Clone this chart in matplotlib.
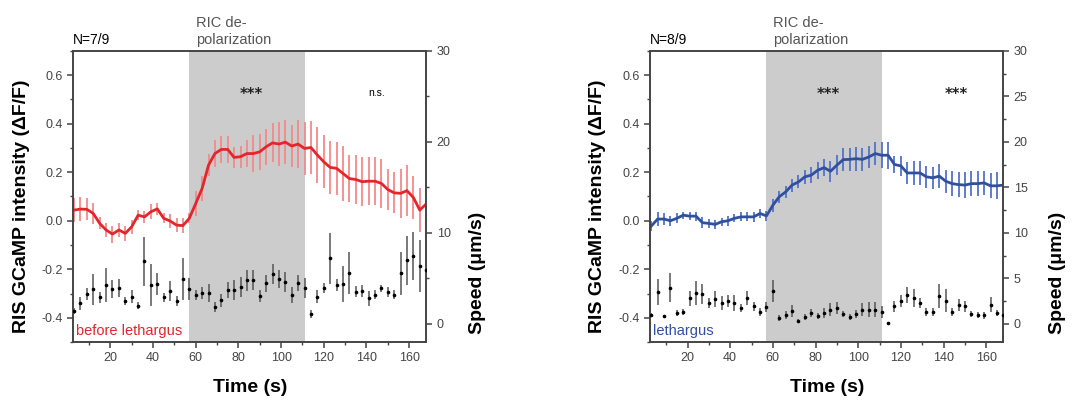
import numpy as np
import matplotlib
matplotlib.use("Agg")
import matplotlib.pyplot as plt
from matplotlib.ticker import MultipleLocator

plt.rcParams["font.family"] = ["Liberation Sans", "DejaVu Sans"]

# sampling grid (s)
time = np.arange(3, 169, 3)

# before lethargus: GCaMP dF/F mean and SEM
red_mean = [0.044, 0.048, 0.047, 0.030, -0.011, -0.038, -0.055, -0.038, -0.052, -0.025,
            0.023, 0.016, 0.037, 0.049, 0.010, -0.001, -0.018, -0.020, 0.010, 0.071,
            0.133, 0.229, 0.277, 0.294, 0.294, 0.261, 0.264, 0.277, 0.277, 0.284,
            0.305, 0.321, 0.316, 0.324, 0.308, 0.316, 0.298, 0.302, 0.271, 0.243,
            0.220, 0.216, 0.195, 0.174, 0.170, 0.161, 0.163, 0.163, 0.154, 0.129,
            0.115, 0.113, 0.124, 0.096, 0.044, 0.069]
red_err = [0.05, 0.05, 0.045, 0.045, 0.025, 0.03, 0.035, 0.03, 0.03, 0.03,
           0.02, 0.025, 0.03, 0.025, 0.02, 0.03, 0.03, 0.03, 0.02, 0.05,
           0.05, 0.045, 0.055, 0.055, 0.055, 0.045, 0.045, 0.055, 0.075, 0.075,
           0.075, 0.08, 0.09, 0.09, 0.085, 0.1, 0.11, 0.11, 0.115, 0.11,
           0.11, 0.11, 0.115, 0.095, 0.1, 0.1, 0.1, 0.1, 0.1, 0.085,
           0.085, 0.1, 0.105, 0.09, 0.09, 0.0]
# before lethargus: speed (um/s) mean and SEM
red_speed = [1.4, 2.26, 3.28, 3.8, 2.9, 4.27, 3.8, 3.9, 2.55, 3.0,
             2.0, 6.9, 4.27, 4.34, 2.9, 3.65, 2.55, 4.9, 3.8, 3.2,
             3.4, 3.4, 1.9, 2.6, 3.7, 3.7, 4.1, 4.8, 4.8, 3.07,
             4.45, 5.5, 4.9, 4.6, 3.2, 4.5, 3.9, 1.1, 3.0, 3.9,
             7.2, 4.27, 4.4, 5.55, 3.55, 3.65, 2.8, 3.2, 3.9, 3.55,
             3.2, 5.55, 7.0, 7.45, 6.35, 5.9]
red_speed_err = [0.3, 0.7, 0.65, 1.7, 0.65, 1.9, 1.0, 1.0, 0.45, 0.7,
                 0.4, 2.7, 2.3, 1.2, 0.45, 1.1, 0.55, 2.3, 1.2, 0.55,
                 0.65, 1.0, 0.55, 0.7, 0.9, 1.1, 1.1, 1.15, 1.1, 0.7,
                 0.9, 1.1, 1.0, 1.1, 0.9, 0.9, 1.1, 0.45, 0.7, 0.55,
                 2.8, 0.7, 2.0, 2.3, 0.6, 0.65, 0.8, 0.5, 0.4, 0.55,
                 0.5, 2.4, 2.7, 2.6, 2.9, 0.5]

# lethargus
blue_mean = [-0.022, 0.007, 0.007, 0.0, 0.010, 0.023, 0.019, 0.019, -0.008, -0.011,
             -0.015, -0.004, 0.0, 0.010, 0.016, 0.016, 0.016, 0.030, 0.020, 0.064,
             0.099, 0.119, 0.147, 0.160, 0.181, 0.188, 0.208, 0.219, 0.204, 0.229,
             0.252, 0.253, 0.256, 0.253, 0.263, 0.277, 0.270, 0.270, 0.232, 0.226,
             0.197, 0.197, 0.197, 0.181, 0.177, 0.184, 0.163, 0.153, 0.149, 0.147,
             0.153, 0.153, 0.156, 0.144, 0.144, 0.147]
blue_err = [0.02, 0.028, 0.025, 0.02, 0.02, 0.015, 0.017, 0.018, 0.022, 0.02,
            0.017, 0.017, 0.02, 0.017, 0.019, 0.019, 0.02, 0.019, 0.02, 0.027,
            0.025, 0.026, 0.027, 0.027, 0.03, 0.032, 0.034, 0.036, 0.043, 0.04,
            0.046, 0.048, 0.05, 0.048, 0.047, 0.048, 0.053, 0.055, 0.034, 0.041,
            0.045, 0.048, 0.048, 0.045, 0.045, 0.048, 0.048, 0.051, 0.052, 0.053,
            0.053, 0.053, 0.051, 0.051, 0.055, 0.0]
blue_speed = [1.0, 3.5, 0.85, 3.95, 1.2, 1.3, 2.8, 3.4, 3.3, 2.3,
              2.7, 2.3, 2.5, 2.3, 1.75, 2.85, 1.95, 1.3, 1.85, 3.65,
              0.65, 0.95, 1.4, 0.35, 0.75, 1.2, 0.85, 1.2, 1.55, 1.75,
              1.1, 0.75, 1.1, 1.55, 1.55, 1.55, 1.3, 0.1, 1.95, 2.5,
              3.2, 2.8, 2.3, 1.3, 1.3, 3.05, 2.55, 1.3, 2.1, 1.95,
              1.1, 0.95, 0.95, 2.1, 1.2, 0.95]
blue_speed_err = [0.2, 1.4, 0.15, 1.6, 0.35, 0.35, 0.8, 1.3, 1.1, 0.55,
                  0.9, 0.8, 0.7, 0.9, 0.4, 0.8, 0.5, 0.4, 0.5, 1.2,
                  0.3, 0.45, 0.7, 0.15, 0.35, 0.45, 0.35, 0.55, 0.7, 0.7,
                  0.35, 0.35, 0.45, 0.7, 0.8, 0.8, 0.65, 0.1, 0.6, 0.65,
                  0.9, 1.0, 0.55, 0.45, 0.45, 1.3, 1.3, 0.45, 0.65, 0.6,
                  0.35, 0.35, 0.4, 0.8, 0.35, 0.3]

stim_window = (57, 111)
AX_COL = "#444444"


def draw_panel(fig, left, mean, err, speed, speed_err, line_col, bar_col,
               n_text, cond_text, stars, right_major):
    ax = fig.add_axes([left, 0.147, 0.327, 0.726])
    ax.axvspan(*stim_window, color="#cccccc", lw=0, zorder=0)
    ax.set_xlim(2.5, 168)
    ax.set_ylim(-0.5, 0.7)
    ax.errorbar(time, mean, yerr=err, fmt="none", ecolor=bar_col, elinewidth=1.3, zorder=2)
    ax.plot(time, mean, color=line_col, lw=2, zorder=3)

    ax2 = ax.twinx()
    ax2.set_ylim(-2, 30)
    ax2.errorbar(time, speed, yerr=speed_err, fmt="o", ms=1.6, color="black",
                 ecolor="#555555", elinewidth=1.1, zorder=3)

    ax.xaxis.set_major_locator(MultipleLocator(20))
    ax.xaxis.set_minor_locator(MultipleLocator(10))
    ax.yaxis.set_major_locator(MultipleLocator(0.2))
    ax.yaxis.set_minor_locator(MultipleLocator(0.1))
    ax.yaxis.set_major_formatter(plt.FuncFormatter(lambda v, p: f"{v:.1f}"))
    ax2.yaxis.set_major_locator(MultipleLocator(right_major))
    ax2.yaxis.set_minor_locator(MultipleLocator(right_major / 2))
    ax2.set_yticks([t for t in np.arange(0, 31, right_major)])

    for a in (ax, ax2):
        for s in a.spines.values():
            s.set_color(AX_COL)
            s.set_linewidth(1.2)
        a.tick_params(which="major", direction="out", length=4, width=1.1,
                      color=AX_COL, labelcolor="#444444", labelsize=9)
        a.tick_params(which="minor", direction="out", length=2.2, width=1.0, color=AX_COL)

    star_kw = dict(ha="center", va="center", fontsize=10.5, fontweight="bold",
                   family="DejaVu Sans", color="#222222")
    ax.text(86, 0.52, stars[0], **star_kw)
    if stars[1] == "n.s.":
        ax.text(145, 0.525, stars[1], ha="center", va="center", fontsize=7.5)
    else:
        ax.text(146, 0.52, stars[1], **star_kw)
    ax.text(2.5, 0.715, n_text, ha="left", va="bottom", fontsize=10)
    ax.text(stim_window[0] + 3, 0.715, "RIC de-\npolarization", ha="left", va="bottom",
            fontsize=10.5, color="#555555", linespacing=1.3)
    ax.text(4, -0.485, cond_text, ha="left", va="bottom", fontsize=10.5, color=line_col)
    return ax


fig = plt.figure(figsize=(10.8, 4.01), dpi=100)

draw_panel(fig, 0.0676, red_mean, red_err, red_speed, red_speed_err,
           "#e3262b", "#f28a8a", "N=7/9", "before lethargus", ("***", "n.s."), 10)
draw_panel(fig, 0.602, blue_mean, blue_err, blue_speed, blue_speed_err,
           "#30509e", "#5272cc", "N=8/9", "lethargus", ("***", "***"), 5)

lab = dict(fontsize=14, fontweight="bold", ha="center", va="center")
for x_ax, x_sp, x_t in [(22, 477, 250), (597, 1057, 827)]:
    fig.text(x_ax / 1080, 1 - 206 / 401, "RIS GCaMP intensity (\u0394F/F)", rotation=90, **lab)
    fig.text(x_sp / 1080, 1 - 273 / 401, "Speed (\u03bcm/s)", rotation=90, **lab)
    fig.text(x_t / 1080, 1 - 388 / 401, "Time (s)", **lab)

fig.savefig("out.png", dpi=100)
